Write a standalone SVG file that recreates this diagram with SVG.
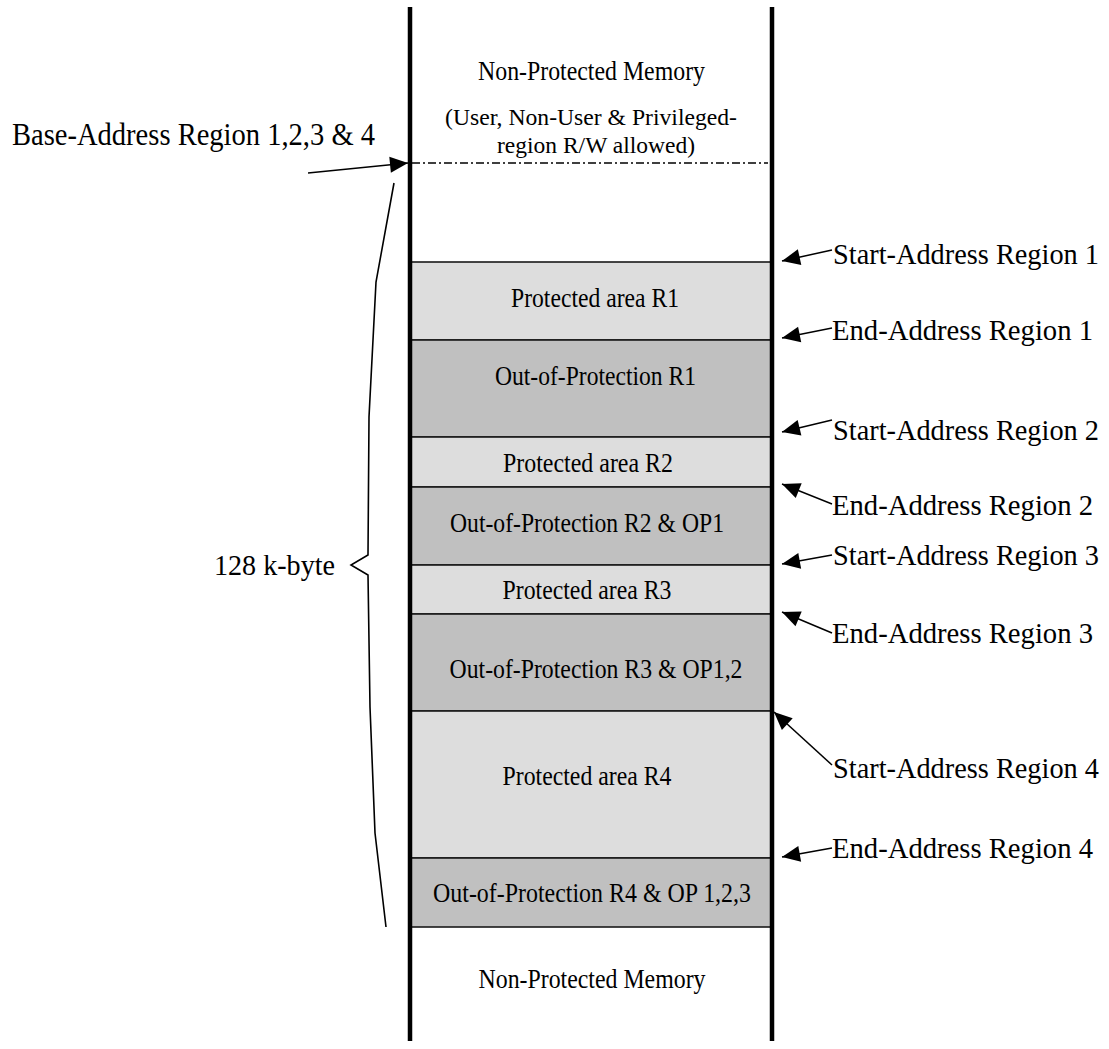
<svg xmlns="http://www.w3.org/2000/svg" width="1109" height="1049" viewBox="0 0 1109 1049">
  <style>
    text { font-family: "Liberation Serif", "Times New Roman", serif; fill: #000; }
    .blk { font-size: 27px; text-anchor: middle; }
    .note { font-size: 24px; text-anchor: middle; }
    .lbl { font-size: 29px; }
    .prot { fill: #dddddd; stroke: #1a1a1a; stroke-width: 1.6; }
    .oop { fill: #c0c0c0; stroke: #1a1a1a; stroke-width: 1.6; }
    .wall { stroke: #000; stroke-width: 4.5; fill: none; }
    .arrow { stroke: #000; stroke-width: 1.5; fill: none; marker-end: url(#head); }
    .brace { stroke: #000; stroke-width: 1.6; fill: none; stroke-linejoin: miter; }
  </style>
  <defs>
    <marker id="head" markerUnits="userSpaceOnUse" markerWidth="20" markerHeight="18" viewBox="-19 -9 20 18" refX="0" refY="0" orient="auto">
      <path d="M0,0 L-18,-8 L-18,8 Z" fill="#000"/>
    </marker>
  </defs>

  <rect width="1109" height="1049" fill="#fff"/>

  <!-- memory map column -->
  <g id="top-memory">
    <text class="blk" x="591.5" y="80" textLength="227" lengthAdjust="spacingAndGlyphs">Non-Protected Memory</text>
    <text class="note" x="591" y="125" textLength="292" lengthAdjust="spacingAndGlyphs">(User, Non-User &amp; Privileged-</text>
    <text class="note" x="596" y="153" textLength="198" lengthAdjust="spacingAndGlyphs">region R/W allowed)</text>
    <line x1="412" y1="163" x2="768" y2="163" stroke="#000" stroke-width="1.6" stroke-dasharray="8 3 2 3"/>
  </g>

  <g id="prot-r1">
    <rect class="prot" x="410" y="262" width="362" height="78"/>
    <text class="blk" x="595" y="307" textLength="168" lengthAdjust="spacingAndGlyphs">Protected area R1</text>
  </g>
  <g id="oop-r1">
    <rect class="oop" x="410" y="340" width="362" height="97"/>
    <text class="blk" x="595.5" y="385" textLength="201" lengthAdjust="spacingAndGlyphs">Out-of-Protection R1</text>
  </g>
  <g id="prot-r2">
    <rect class="prot" x="410" y="437" width="362" height="50"/>
    <text class="blk" x="588" y="472" textLength="170" lengthAdjust="spacingAndGlyphs">Protected area R2</text>
  </g>
  <g id="oop-r2">
    <rect class="oop" x="410" y="487" width="362" height="78"/>
    <text class="blk" x="587" y="532" textLength="274" lengthAdjust="spacingAndGlyphs">Out-of-Protection R2 &amp; OP1</text>
  </g>
  <g id="prot-r3">
    <rect class="prot" x="410" y="565" width="362" height="49"/>
    <text class="blk" x="587" y="599" textLength="169" lengthAdjust="spacingAndGlyphs">Protected area R3</text>
  </g>
  <g id="oop-r3">
    <rect class="oop" x="410" y="614" width="362" height="97"/>
    <text class="blk" x="596" y="678" textLength="293" lengthAdjust="spacingAndGlyphs">Out-of-Protection R3 &amp; OP1,2</text>
  </g>
  <g id="prot-r4">
    <rect class="prot" x="410" y="711" width="362" height="147"/>
    <text class="blk" x="587" y="785" textLength="169" lengthAdjust="spacingAndGlyphs">Protected area R4</text>
  </g>
  <g id="oop-r4">
    <rect class="oop" x="410" y="858" width="362" height="69"/>
    <text class="blk" x="592" y="902" textLength="318" lengthAdjust="spacingAndGlyphs">Out-of-Protection R4 &amp; OP 1,2,3</text>
  </g>
  <g id="bottom-memory">
    <text class="blk" x="592" y="988" textLength="227" lengthAdjust="spacingAndGlyphs">Non-Protected Memory</text>
  </g>

  <!-- column walls -->
  <g id="walls">
    <line class="wall" x1="410" y1="7" x2="410" y2="1041"/>
    <line class="wall" x1="772" y1="7" x2="772" y2="1041"/>
  </g>

  <!-- size brace -->
  <g id="size-brace">
    <path class="brace" d="M394,183 L376,282 L369,417 L368,555 L351,565 L368,575 L370,707 L375,833 L386,927"/>
    <text class="lbl" x="214" y="575" style="font-size:30px" textLength="121" lengthAdjust="spacingAndGlyphs">128 k-byte</text>
  </g>

  <!-- address labels -->
  <g id="labels">
    <text class="lbl" x="12" y="145" style="font-size:32px" textLength="363" lengthAdjust="spacingAndGlyphs">Base-Address Region 1,2,3 &amp; 4</text>
    <text class="lbl" x="833" y="264" textLength="266" lengthAdjust="spacingAndGlyphs">Start-Address Region 1</text>
    <text class="lbl" x="832" y="340" textLength="261" lengthAdjust="spacingAndGlyphs">End-Address Region 1</text>
    <text class="lbl" x="833" y="440" textLength="266" lengthAdjust="spacingAndGlyphs">Start-Address Region 2</text>
    <text class="lbl" x="832" y="515" textLength="261" lengthAdjust="spacingAndGlyphs">End-Address Region 2</text>
    <text class="lbl" x="833" y="565" textLength="266" lengthAdjust="spacingAndGlyphs">Start-Address Region 3</text>
    <text class="lbl" x="832" y="643" textLength="261" lengthAdjust="spacingAndGlyphs">End-Address Region 3</text>
    <text class="lbl" x="833" y="778" textLength="266" lengthAdjust="spacingAndGlyphs">Start-Address Region 4</text>
    <text class="lbl" x="832" y="858" textLength="261" lengthAdjust="spacingAndGlyphs">End-Address Region 4</text>
  </g>

  <!-- connectors -->
  <g id="connectors">
    <line class="arrow" x1="308" y1="173" x2="408" y2="163"/>
    <line class="arrow" x1="832" y1="250" x2="782" y2="261"/>
    <line class="arrow" x1="832" y1="328" x2="782" y2="338"/>
    <line class="arrow" x1="832" y1="420" x2="782" y2="432"/>
    <line class="arrow" x1="832" y1="504" x2="782" y2="484"/>
    <line class="arrow" x1="832" y1="555" x2="782" y2="564"/>
    <line class="arrow" x1="832" y1="633" x2="782" y2="612"/>
    <line class="arrow" x1="832" y1="765" x2="774" y2="712"/>
    <line class="arrow" x1="832" y1="848" x2="782" y2="857"/>
  </g>
</svg>
